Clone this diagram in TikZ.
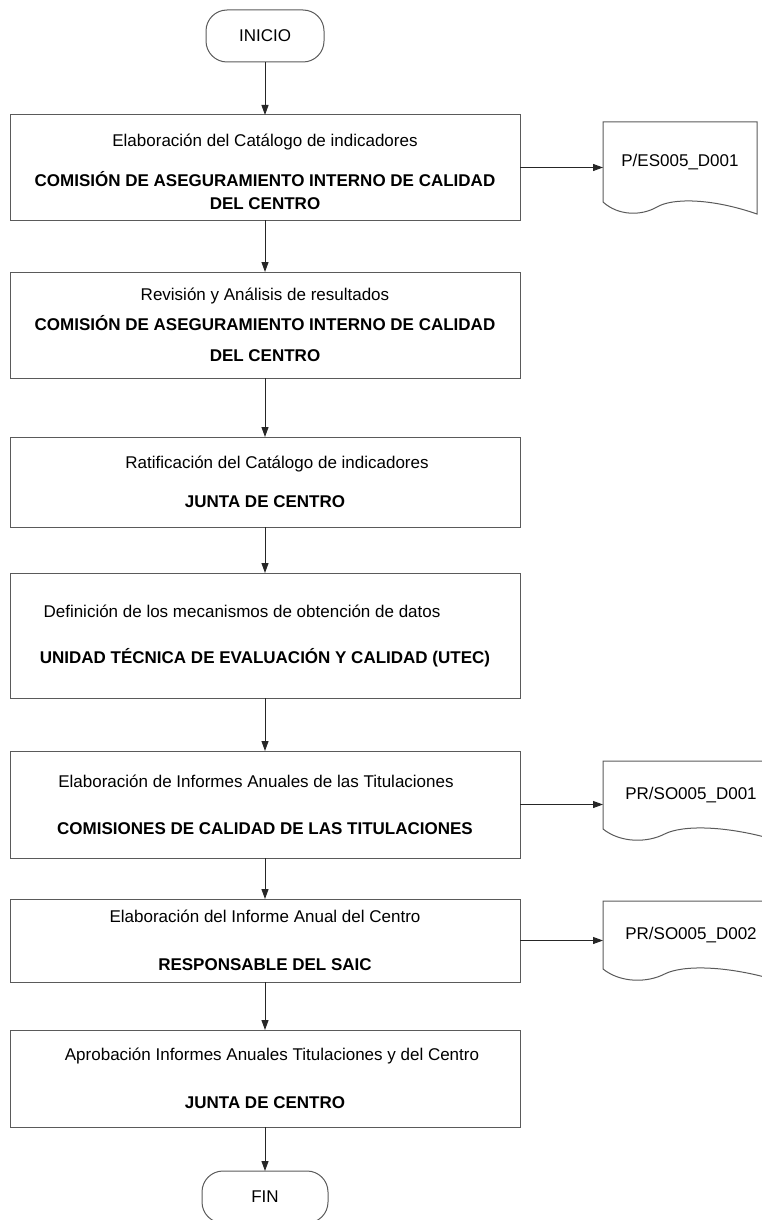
\documentclass[tikz,border=0pt]{standalone}
\usepackage{fontspec}
\setmainfont{Liberation Sans}
\usetikzlibrary{arrows.meta, calc}
\definecolor{lineagris}{RGB}{90, 90, 90}

\tikzset{
  proceso/.style={draw=lineagris, line width=1pt, minimum width=510pt, align=center, inner sep=0pt, outer sep=0pt, font=\fontsize{17}{20.4}\selectfont},
  terminal/.style={draw=lineagris, line width=1pt, rounded corners=21pt, minimum height=52pt, outer sep=0pt, font=\fontsize{17}{20.4}\selectfont},
  documento/.style={minimum width=154pt, minimum height=80pt, inner sep=0pt, outer sep=0pt, font=\fontsize{17}{20.4}\selectfont},
  flecha/.style={draw=black!85, line width=1pt, -{Triangle[length=10pt, width=7pt]}}
}

% contorno de documento con borde inferior ondulado
\newcommand{\hoja}[1]{
  \draw[draw=lineagris, line width=1pt] (#1.south west) -- (#1.north west) -- (#1.north east) -- ($(#1.south east)+(0,12)$)
    .. controls ($(#1.south west)!0.7!(#1.south east)+(0,-4)$) and ($(#1.south west)!0.45!(#1.south east)+(0,-4)$) .. ($(#1.south west)!0.35!(#1.south east)+(0,5)$)
    .. controls ($(#1.south west)!0.25!(#1.south east)+(0,14)$) and ($(#1.south west)!0.1!(#1.south east)+(0,14)$) .. (#1.south west);
}

\begin{document}
\begin{tikzpicture}[x=1pt, y=-1pt]
  \clip (0,0) rectangle (762,1220);

  % inicio
  \node[terminal, minimum width=118pt] (inicio) at (265,36) {INICIO};

  % pasos del proceso
  \node[proceso, minimum height=105pt] (catalogo) at (265,167.5) {\mbox{}\\[1.6pt]Elaboración del Catálogo de indicadores\\[19.6pt]
    \textbf{COMISIÓN DE ASEGURAMIENTO INTERNO DE CALIDAD}\\[2.6pt]\textbf{DEL CENTRO}};
  \node[proceso, minimum height=106pt] (revision) at (265,325) {Revisión y Análisis de resultados\\[9.6pt]
    \textbf{COMISIÓN DE ASEGURAMIENTO INTERNO DE CALIDAD}\\[10.6pt]\textbf{DEL CENTRO}};
  \node[proceso, minimum height=90pt] (ratificacion) at (265,482) {\hspace*{24pt}Ratificación del Catálogo de indicadores\\[18.6pt]
    \textbf{JUNTA DE CENTRO}};
  \node[proceso, minimum height=125pt] (datos) at (265,635.5) {Definición de los mecanismos de obtención de datos\hspace*{46pt}\\[25.6pt]
    \textbf{UNIDAD TÉCNICA DE EVALUACIÓN Y CALIDAD (UTEC)}};
  \node[proceso, minimum height=107pt] (titulaciones) at (265,804.5) {Elaboración de Informes Anuales de las Titulaciones\hspace*{18pt}\\[26.6pt]
    \textbf{COMISIONES DE CALIDAD DE LAS TITULACIONES}};
  \node[proceso, minimum height=83pt] (centro) at (265,940.5) {Elaboración del Informe Anual del Centro\\[27.6pt]
    \textbf{RESPONSABLE DEL SAIC}};
  \node[proceso, minimum height=97pt] (aprobacion) at (265,1078.5) {\hspace*{14pt}Aprobación Informes Anuales Titulaciones y del Centro\\[27.6pt]
    \textbf{JUNTA DE CENTRO}};

  % fin
  \node[terminal, minimum width=126pt] (fin) at (265,1197) {FIN};

  % documentos
  \node[documento] (doc1) at (680,162) {P/ES005\_D001};
  \node[documento, minimum width=176pt, minimum height=68pt] (doc2) at (691,795) {PR/SO005\_D001};
  \node[documento, minimum width=176pt, minimum height=68pt] (doc3) at (691,935) {PR/SO005\_D002};
  \hoja{doc1}
  \hoja{doc2}
  \hoja{doc3}

  % flujo
  \draw[flecha] (inicio) -- (catalogo);
  \draw[flecha] (catalogo) -- (revision);
  \draw[flecha] (revision) -- (ratificacion);
  \draw[flecha] (ratificacion) -- (datos);
  \draw[flecha] (datos) -- (titulaciones);
  \draw[flecha] (titulaciones) -- (centro);
  \draw[flecha] (centro) -- (aprobacion);
  \draw[flecha] (aprobacion) -- (fin);

  \draw[flecha] (catalogo.east) -- (catalogo.east -| doc1.west);
  \draw[flecha] (titulaciones.east) -- (titulaciones.east -| doc2.west);
  \draw[flecha] (centro.east) -- (centro.east -| doc3.west);
\end{tikzpicture}
\end{document}
